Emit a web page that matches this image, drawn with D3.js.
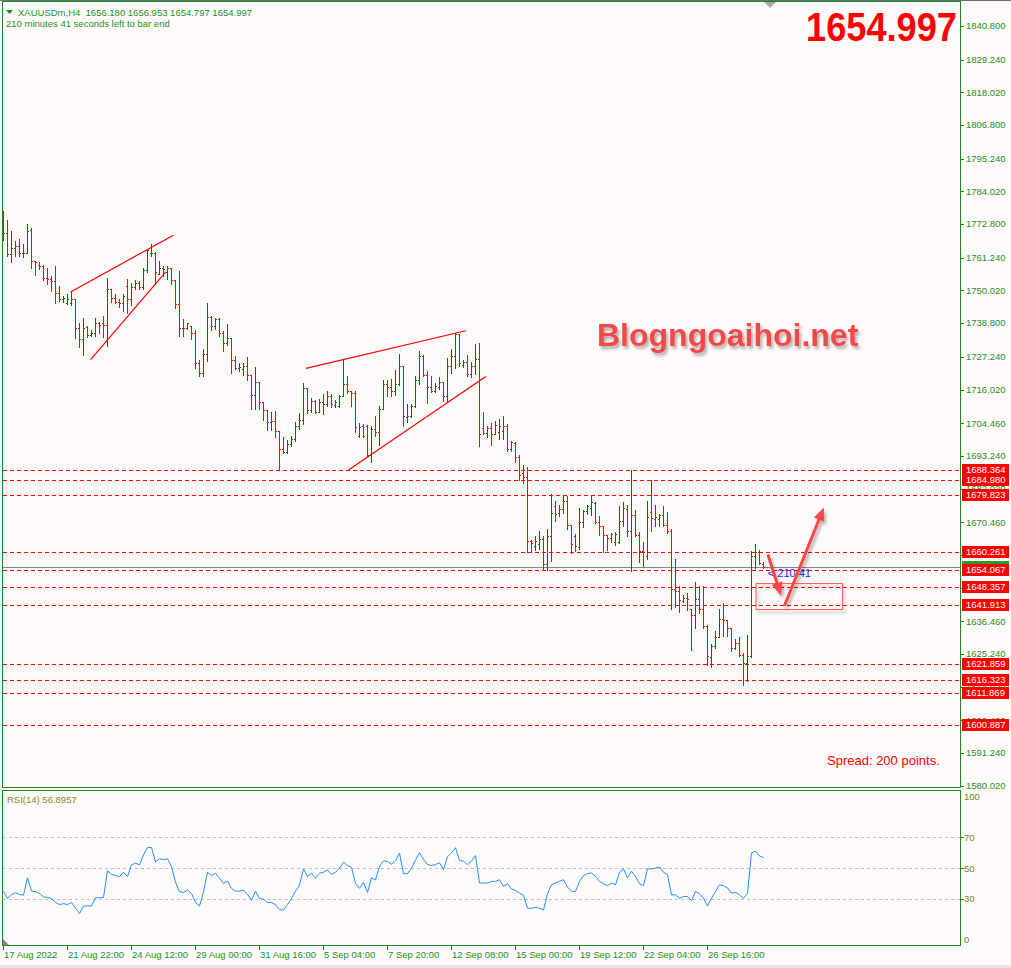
<!DOCTYPE html>
<html>
<head>
<meta charset="utf-8">
<script src="https://d3js.org/d3.v7.min.js"></script>
<style>
  body { margin: 0; background: #fffafa; }
  svg { display: block; }
  text { font-family: "Liberation Sans", Arial, sans-serif; }
</style>
</head>
<body>
<div id="chart"></div>
<script>
// XAUUSDm H4 bars, 17 Aug - 27 Sep 2022
const openP = [
  1776.2, 1769.9, 1762.5, 1764.7, 1765.3, 1762.8, 1763.0, 1770.7, 1760.1, 1758.9,
  1758.4, 1754.4, 1753.9, 1753.3, 1749.3, 1747.0, 1745.8, 1745.6, 1747.0, 1737.2,
  1733.5, 1737.4, 1734.9, 1735.5, 1738.7, 1738.7, 1738.2, 1750.4, 1747.5, 1746.2,
  1745.8, 1751.4, 1747.0, 1751.3, 1752.7, 1751.3, 1757.0, 1762.8, 1762.9, 1755.6,
  1757.6, 1756.2, 1757.9, 1753.6, 1745.3, 1737.2, 1737.0, 1737.8, 1735.3, 1725.0,
  1721.8, 1728.1, 1741.0, 1737.8, 1740.1, 1735.3, 1731.9, 1733.8, 1726.3, 1723.5,
  1722.9, 1724.0, 1721.0, 1714.1, 1718.7, 1711.6, 1709.1, 1704.7, 1705.2, 1701.9,
  1695.6, 1694.7, 1697.3, 1699.0, 1703.4, 1705.7, 1716.4, 1709.1, 1712.2, 1708.4,
  1711.6, 1711.0, 1713.9, 1710.7, 1710.5, 1713.9, 1717.9, 1715.6, 1714.8, 1700.2,
  1703.4, 1703.6, 1693.5, 1702.4, 1701.3, 1709.5, 1717.9, 1716.8, 1715.6, 1717.9,
  1724.0, 1706.5, 1707.0, 1710.5, 1719.4, 1727.6, 1721.0, 1716.8, 1715.6, 1716.8,
  1718.5, 1713.7, 1724.2, 1727.6, 1735.1, 1724.4, 1725.4, 1721.3, 1724.0, 1726.5,
  1702.7, 1701.1, 1702.7, 1700.7, 1701.5, 1701.9, 1703.6, 1695.6, 1697.6, 1692.7,
  1687.5, 1686.0, 1664.1, 1662.4, 1662.9, 1664.7, 1656.1, 1665.6, 1676.1, 1673.8,
  1675.0, 1677.8, 1669.5, 1665.6, 1661.8, 1670.6, 1674.4, 1675.5, 1677.0, 1670.6,
  1669.0, 1666.0, 1664.9, 1663.7, 1663.7, 1671.0, 1675.0, 1667.5, 1672.9, 1666.0,
  1660.6, 1659.0, 1674.0, 1671.5, 1671.5, 1672.9, 1669.5, 1667.5, 1647.7, 1646.9,
  1643.5, 1644.3, 1640.6, 1638.5, 1644.0, 1640.6, 1634.9, 1624.3, 1628.0, 1631.2,
  1637.2, 1636.9, 1634.3, 1627.4, 1628.9, 1624.8, 1622.3, 1624.6, 1658.9, 1660.3,
  1656.180
];
const highP = [
  1777.4, 1774.3, 1770.5, 1767.0, 1767.8, 1765.9, 1772.8, 1771.3, 1760.2, 1759.9,
  1758.7, 1757.6, 1755.1, 1758.4, 1751.4, 1748.2, 1748.7, 1749.5, 1747.0, 1738.9,
  1740.6, 1737.8, 1736.6, 1740.6, 1739.1, 1741.2, 1754.4, 1750.6, 1748.7, 1747.2,
  1748.7, 1754.1, 1752.7, 1753.6, 1753.3, 1757.8, 1764.4, 1765.9, 1763.3, 1760.2,
  1758.4, 1758.4, 1757.9, 1753.6, 1756.7, 1740.1, 1738.9, 1737.8, 1736.6, 1726.3,
  1729.8, 1745.8, 1741.2, 1740.7, 1740.7, 1736.1, 1738.4, 1733.8, 1727.5, 1725.2,
  1725.2, 1727.1, 1721.0, 1723.6, 1718.7, 1711.6, 1709.1, 1708.2, 1708.7, 1701.9,
  1699.6, 1698.8, 1700.2, 1704.7, 1707.9, 1718.3, 1716.4, 1713.0, 1712.5, 1712.8,
  1714.5, 1715.6, 1714.5, 1712.5, 1714.1, 1726.3, 1720.8, 1715.6, 1715.6, 1704.5,
  1704.2, 1703.8, 1703.6, 1707.0, 1710.5, 1719.4, 1719.4, 1719.6, 1722.8, 1728.2,
  1724.2, 1711.0, 1711.0, 1720.8, 1729.4, 1727.9, 1722.5, 1720.5, 1718.3, 1720.2,
  1718.7, 1726.7, 1729.9, 1735.4, 1735.1, 1726.3, 1727.9, 1725.4, 1731.7, 1732.0,
  1708.2, 1703.4, 1704.5, 1705.3, 1705.9, 1707.0, 1704.2, 1698.4, 1697.9, 1693.5,
  1690.0, 1689.5, 1664.4, 1665.6, 1667.5, 1665.6, 1668.1, 1680.1, 1677.8, 1676.3,
  1679.9, 1679.5, 1669.5, 1666.4, 1675.5, 1674.7, 1676.3, 1679.9, 1677.3, 1672.7,
  1669.2, 1666.0, 1666.9, 1667.2, 1676.1, 1677.5, 1676.3, 1688.5, 1674.7, 1667.2,
  1663.7, 1677.8, 1685.0, 1676.3, 1673.2, 1676.1, 1674.0, 1668.3, 1658.0, 1648.4,
  1645.4, 1646.1, 1640.6, 1650.0, 1648.4, 1648.4, 1635.1, 1628.6, 1633.2, 1640.8,
  1642.7, 1636.9, 1634.3, 1630.5, 1630.9, 1625.5, 1631.7, 1660.6, 1662.9, 1661.0,
  1656.953
];
const lowP = [
  1767.4, 1761.7, 1759.8, 1761.9, 1761.7, 1761.4, 1763.0, 1757.9, 1755.3, 1757.3,
  1753.7, 1752.2, 1749.9, 1745.6, 1746.4, 1746.1, 1745.3, 1744.9, 1733.8, 1730.7,
  1727.7, 1734.1, 1734.3, 1734.3, 1735.5, 1734.1, 1730.9, 1746.0, 1745.6, 1744.4,
  1743.0, 1742.4, 1744.9, 1750.6, 1750.4, 1750.6, 1756.3, 1761.9, 1752.2, 1755.6,
  1755.1, 1753.9, 1752.2, 1744.1, 1734.4, 1734.4, 1736.7, 1733.2, 1723.5, 1720.6,
  1720.6, 1725.8, 1736.4, 1736.9, 1734.4, 1729.2, 1731.2, 1721.6, 1723.2, 1722.4,
  1720.9, 1719.4, 1709.3, 1709.5, 1709.5, 1705.7, 1702.2, 1702.2, 1699.6, 1688.7,
  1694.2, 1694.2, 1696.5, 1698.4, 1702.4, 1704.2, 1707.9, 1708.4, 1707.9, 1708.4,
  1707.6, 1710.2, 1709.9, 1709.9, 1709.9, 1713.7, 1714.8, 1710.5, 1701.3, 1699.6,
  1699.6, 1693.1, 1691.2, 1700.2, 1696.9, 1709.5, 1713.7, 1713.7, 1714.1, 1717.6,
  1703.6, 1704.7, 1706.5, 1709.9, 1717.9, 1720.5, 1711.4, 1715.0, 1715.0, 1716.2,
  1712.2, 1711.6, 1721.7, 1723.3, 1724.2, 1723.6, 1720.5, 1720.2, 1721.3, 1696.7,
  1700.7, 1699.6, 1696.9, 1700.7, 1699.0, 1699.0, 1695.0, 1695.0, 1691.0, 1685.0,
  1683.9, 1660.3, 1660.3, 1661.0, 1661.2, 1654.1, 1654.1, 1657.2, 1671.0, 1672.7,
  1673.8, 1668.3, 1659.8, 1660.6, 1661.4, 1668.7, 1673.2, 1672.9, 1670.2, 1666.0,
  1660.1, 1661.0, 1663.7, 1662.6, 1663.5, 1669.2, 1665.6, 1653.8, 1665.8, 1656.9,
  1655.5, 1657.8, 1667.5, 1669.0, 1669.0, 1669.0, 1666.7, 1640.8, 1641.5, 1639.5,
  1643.1, 1640.4, 1626.6, 1634.3, 1639.2, 1634.1, 1621.4, 1620.9, 1627.4, 1630.9,
  1631.4, 1631.4, 1626.3, 1626.9, 1624.6, 1614.5, 1616.0, 1624.3, 1654.9, 1656.1,
  1654.797
];
const closeP = [
  1769.9, 1762.5, 1764.7, 1765.3, 1762.8, 1763.0, 1770.5, 1760.2, 1759.9, 1758.4,
  1754.4, 1753.9, 1753.3, 1749.3, 1747.2, 1747.6, 1747.0, 1747.0, 1737.2, 1733.5,
  1737.2, 1734.9, 1735.5, 1738.7, 1738.3, 1738.2, 1750.4, 1747.5, 1746.2, 1745.8,
  1748.1, 1747.0, 1751.3, 1752.7, 1751.3, 1757.0, 1764.0, 1762.9, 1756.2, 1757.6,
  1757.3, 1757.9, 1753.6, 1745.3, 1737.2, 1737.0, 1738.7, 1735.3, 1725.0, 1721.8,
  1728.1, 1741.0, 1737.8, 1740.1, 1735.3, 1731.9, 1733.8, 1726.3, 1723.5, 1723.6,
  1724.1, 1721.0, 1714.1, 1718.7, 1711.6, 1709.1, 1705.0, 1705.2, 1701.9, 1695.6,
  1694.7, 1697.3, 1699.0, 1703.4, 1705.7, 1716.4, 1709.1, 1712.2, 1708.4, 1711.6,
  1711.0, 1713.9, 1711.0, 1711.6, 1713.9, 1717.9, 1715.6, 1714.8, 1703.0, 1703.0,
  1700.2, 1693.5, 1702.4, 1701.5, 1709.5, 1717.9, 1716.8, 1715.6, 1717.9, 1724.0,
  1706.8, 1707.0, 1710.5, 1719.4, 1727.6, 1721.0, 1716.8, 1715.6, 1717.1, 1718.5,
  1713.7, 1724.2, 1727.6, 1735.1, 1725.1, 1725.4, 1721.3, 1724.2, 1726.5, 1700.7,
  1701.1, 1702.7, 1700.7, 1703.8, 1703.4, 1703.6, 1695.6, 1697.9, 1692.7, 1686.6,
  1686.0, 1664.1, 1663.5, 1664.1, 1664.7, 1656.1, 1665.6, 1673.8, 1673.2, 1675.0,
  1677.8, 1669.5, 1662.9, 1662.4, 1670.6, 1674.4, 1675.9, 1677.3, 1670.6, 1669.0,
  1666.0, 1665.2, 1666.4, 1666.4, 1671.0, 1675.5, 1667.5, 1672.9, 1666.0, 1660.6,
  1660.3, 1672.4, 1671.8, 1672.1, 1672.9, 1669.5, 1667.5, 1647.7, 1646.9, 1643.8,
  1644.3, 1644.0, 1638.5, 1644.0, 1640.6, 1634.9, 1624.6, 1628.0, 1631.2, 1637.2,
  1636.9, 1634.3, 1627.4, 1628.9, 1624.8, 1622.3, 1624.6, 1658.9, 1660.3, 1656.4,
  1654.997
];
// RSI(14)
const rsiVals = [
  35.2, 30.4, 33.0, 34.1, 33.0, 32.6, 43.9, 35.2, 34.8, 33.7,
  31.5, 31.1, 30.4, 27.8, 26.5, 27.1, 26.5, 27.8, 24.3, 20.6,
  25.6, 25.6, 25.6, 30.9, 30.9, 31.1, 48.3, 46.1, 45.2, 44.6,
  47.4, 44.6, 52.2, 53.3, 52.2, 58.7, 63.5, 63.5, 54.0, 56.1,
  55.5, 56.1, 51.1, 40.9, 34.8, 34.3, 35.9, 33.7, 27.8, 25.6,
  34.8, 47.4, 45.2, 46.8, 43.5, 40.2, 41.7, 37.0, 35.2, 35.2,
  35.9, 33.0, 29.3, 35.2, 30.4, 30.0, 27.8, 27.8, 26.5, 23.4,
  22.8, 26.5, 30.4, 35.2, 39.1, 49.6, 44.6, 46.8, 43.5, 46.8,
  47.4, 48.9, 46.1, 47.4, 50.0, 54.0, 51.8, 50.5, 40.2, 37.0,
  40.9, 34.3, 43.9, 42.4, 51.1, 54.8, 54.4, 52.6, 54.8, 59.8,
  46.5, 46.5, 50.2, 55.3, 60.0, 55.7, 52.4, 51.8, 52.4, 53.5,
  49.2, 57.4, 60.0, 63.3, 55.0, 54.6, 52.4, 54.6, 58.3, 40.4,
  40.4, 40.4, 41.5, 41.5, 42.6, 38.3, 40.0, 36.5, 35.6, 33.9,
  32.5, 24.1, 24.1, 24.7, 24.1, 23.0, 33.5, 39.3, 40.4, 41.5,
  42.6, 37.8, 35.0, 35.0, 41.5, 45.2, 46.5, 47.0, 44.8, 41.5,
  40.0, 38.7, 40.4, 39.3, 47.4, 49.6, 43.7, 48.1, 44.8, 40.0,
  38.7, 49.6, 49.6, 50.2, 50.9, 47.4, 45.9, 32.8, 32.8, 30.6,
  31.7, 31.7, 29.1, 35.0, 33.5, 30.6, 25.6, 30.6, 35.0, 39.3,
  38.7, 37.2, 33.9, 34.3, 32.8, 30.6, 33.9, 60.0, 61.1, 57.9,
  56.8957
];

const priceTicks = [1840.800, 1829.240, 1818.020, 1806.800, 1795.240, 1784.020, 1772.800,
  1761.240, 1750.020, 1738.800, 1727.240, 1716.020, 1704.460, 1693.240, 1682.020, 1670.460,
  1659.240, 1648.020, 1636.460, 1625.240, 1614.020, 1602.460, 1591.240, 1580.020];
const levels = [1688.364, 1684.980, 1679.823, 1660.261, 1654.067, 1648.357, 1641.913,
  1621.859, 1616.323, 1611.869, 1600.887];
const bidPrice = 1654.997;
const rsiLevels = [70, 50, 30];
const rsiTicks = [100, 70, 50, 30, 0];
const timeTickBars = [0, 16, 32, 48, 64, 80, 96, 112, 128, 144, 160, 176];
const timeTickLabels = ["17 Aug 2022", "21 Aug 22:00", "24 Aug 12:00", "29 Aug 00:00",
  "31 Aug 16:00", "5 Sep 04:00", "7 Sep 20:00", "12 Sep 08:00", "15 Sep 00:00",
  "19 Sep 12:00", "22 Sep 04:00", "26 Sep 16:00"];

// trendlines as [bar, price] pairs
const trendLines = [
  [[16.9, 1749.5], [42.6, 1769.0]],
  [[21.9, 1726.3], [40.7, 1756.4]],
  [[75.75, 1723.3], [115.7, 1736.2]],
  [[86.1, 1688.1], [120.7, 1720.5]]
];
const arrows = [
  [[191.3, 1659.0], [194.5, 1645.3]],
  [[195.5, 1642.2], [205.2, 1675.5]]
];
const boxCorners = [[188.25, 1649.4], [209.9, 1640.5]];

const W = 1011, H = 968;
const green = "#1f8a1f";
const axisText = "#23902a";

const svg = d3.select("#chart").append("svg").attr("width", W).attr("height", H);

const defs = svg.append("defs");
const sh = defs.append("filter").attr("id", "shadow")
  .attr("x", "-20%").attr("y", "-20%").attr("width", "150%").attr("height", "160%");
sh.append("feDropShadow").attr("dx", 2).attr("dy", 3).attr("stdDeviation", 1.6)
  .attr("flood-color", "#000").attr("flood-opacity", 0.3);

svg.append("rect").attr("width", W).attr("height", H).attr("fill", "#fffafa");

const x = d3.scaleLinear().domain([0, 190]).range([3, 763]);
const y = d3.scaleLinear().domain([1580.02, 1840.8]).range([785.7, 26]);
const yr = d3.scaleLinear().domain([0, 100]).range([945.5, 791]);
const px = v => Math.round(v) + 0.5;

// window frame
svg.append("line").attr("x1", 0).attr("x2", W).attr("y1", 0.5).attr("y2", 0.5)
  .attr("stroke", "#6e6e6e");
svg.append("path").attr("d", "M764,2 L776,2 L770,8 Z").attr("fill", "#a9a9a9");
svg.append("rect").attr("x", 2.5).attr("y", 1.5).attr("width", 958).attr("height", 786)
  .attr("fill", "none").attr("stroke", green);
svg.append("rect").attr("x", 2.5).attr("y", 790.5).attr("width", 958).attr("height", 155)
  .attr("fill", "none").attr("stroke", green);
svg.append("path").attr("d", "M3,939 L3,945 L9,945 Z").attr("fill", "#8a8a8a");
svg.append("rect").attr("x", 0).attr("y", 965).attr("width", W).attr("height", 3).attr("fill", "#e6e6e6");

// price axis (labels fully covered by a level tag are not drawn)
const pAxis = svg.append("g");
priceTicks.forEach(p => {
  pAxis.append("line").attr("x1", 961).attr("x2", 964)
    .attr("y1", px(y(p))).attr("y2", px(y(p))).attr("stroke", green);
  const covered = levels.some(l => Math.abs(y(l) - y(p)) < 2.5);
  if (!covered) {
    pAxis.append("text").attr("x", 966).attr("y", y(p)).attr("dy", "0.35em")
      .attr("font-size", 9.5).attr("fill", axisText).text(p.toFixed(3));
  }
});

// horizontal levels
levels.forEach(p => {
  svg.append("line").attr("x1", 3).attr("x2", 960)
    .attr("y1", px(y(p))).attr("y2", px(y(p)))
    .attr("stroke", "#ff0000").attr("stroke-dasharray", "4,3");
});
svg.append("line").attr("x1", 3).attr("x2", 960)
  .attr("y1", px(y(bidPrice))).attr("y2", px(y(bidPrice))).attr("stroke", "#778899");

// bid label then level labels
svg.append("rect").attr("x", 962).attr("y", Math.round(y(bidPrice)) - 6)
  .attr("width", 47).attr("height", 12).attr("fill", "#2a9a2a");
levels.forEach(p => {
  const yy = Math.round(y(p)) - 1;
  svg.append("rect").attr("x", 962).attr("y", yy - 5).attr("width", 47).attr("height", 12)
    .attr("fill", "#ff0000");
  svg.append("text").attr("x", 966).attr("y", yy + 1).attr("dy", "0.35em")
    .attr("font-size", 9.5).attr("fill", "#ffffff").text(p.toFixed(3));
});

// bars
const bars = svg.append("g").attr("shape-rendering", "crispEdges");
d3.range(openP.length).forEach(i => {
  const col = closeP[i] > openP[i] ? "#0a6e0a" : "#ff0000";
  const bx = Math.round(x(i));
  const yh = Math.round(y(highP[i])), yl = Math.round(y(lowP[i]));
  bars.append("rect").attr("x", bx).attr("y", yh).attr("width", 1)
    .attr("height", Math.max(1, yl - yh + 1)).attr("fill", col);
  bars.append("rect").attr("x", bx - 1).attr("y", Math.round(y(openP[i])))
    .attr("width", 1).attr("height", 1).attr("fill", col);
  bars.append("rect").attr("x", bx + 1).attr("y", Math.round(y(closeP[i])))
    .attr("width", 1).attr("height", 1).attr("fill", col);
});

// trendlines
trendLines.forEach(t => {
  svg.append("line")
    .attr("x1", x(t[0][0])).attr("y1", y(t[0][1]))
    .attr("x2", x(t[1][0])).attr("y2", y(t[1][1]))
    .attr("stroke", "#ff0000").attr("stroke-width", 1.2);
});

// timer
svg.append("text").attr("x", x(191.2)).attr("y", y(bidPrice) + 10)
  .attr("font-size", 11).attr("fill", "#2323ff").text("< 210:41");

// box + arrows
const ann = svg.append("g").attr("filter", "url(#shadow)");
ann.append("rect")
  .attr("x", x(boxCorners[0][0])).attr("y", y(boxCorners[0][1]))
  .attr("width", x(boxCorners[1][0]) - x(boxCorners[0][0]))
  .attr("height", y(boxCorners[1][1]) - y(boxCorners[0][1]))
  .attr("fill", "none").attr("stroke", "#ff5a5a").attr("stroke-width", 1);
arrows.forEach(a => {
  const x1 = x(a[0][0]), y1 = y(a[0][1]), x2 = x(a[1][0]), y2 = y(a[1][1]);
  const ang = Math.atan2(y2 - y1, x2 - x1);
  const hl = 13, hw = 5.5;
  const bxp = x2 - hl * Math.cos(ang), byp = y2 - hl * Math.sin(ang);
  ann.append("line").attr("x1", x1).attr("y1", y1).attr("x2", bxp).attr("y2", byp)
    .attr("stroke", "#fa4646").attr("stroke-width", 3).attr("stroke-linecap", "round");
  ann.append("path")
    .attr("d", `M${x2},${y2} L${bxp + hw * Math.sin(ang)},${byp - hw * Math.cos(ang)} L${bxp - hw * Math.sin(ang)},${byp + hw * Math.cos(ang)} Z`)
    .attr("fill", "#fa4646");
});

// watermark + big price
svg.append("text").attr("x", 597).attr("y", 346)
  .attr("font-size", 32).attr("font-weight", "bold").attr("fill", "#f04848")
  .attr("filter", "url(#shadow)").text("Blogngoaihoi.net");
svg.append("text").attr("x", 957).attr("y", 41).attr("text-anchor", "end")
  .attr("font-size", 41).attr("font-weight", "bold").attr("fill", "#ff0000")
  .attr("textLength", 151).attr("lengthAdjust", "spacingAndGlyphs").text("1654.997");
svg.append("text").attr("x", 827).attr("y", 765)
  .attr("font-size", 13).attr("fill", "#ff0000").text("Spread: 200 points.");

// header
svg.append("path").attr("d", "M6,10 L13,10 L9.5,14 Z").attr("fill", "#1f8a1f");
svg.append("text").attr("x", 18).attr("y", 16).attr("font-size", 9.5).attr("fill", axisText)
  .attr("xml:space", "preserve")
  .text("XAUUSDm,H4  1656.180 1656.953 1654.797 1654.997");
svg.append("text").attr("x", 6).attr("y", 27).attr("font-size", 9.5).attr("fill", axisText)
  .text("210 minutes 41 seconds left to bar end");

// RSI window
rsiLevels.forEach(v => {
  svg.append("line").attr("x1", 3).attr("x2", 960).attr("y1", px(yr(v))).attr("y2", px(yr(v)))
    .attr("stroke", "#c0c0c0").attr("stroke-dasharray", "3,3");
  svg.append("line").attr("x1", 961).attr("x2", 964).attr("y1", px(yr(v))).attr("y2", px(yr(v)))
    .attr("stroke", green);
});
rsiTicks.forEach(v => {
  const yy = v === 100 ? yr(v) + 6 : v === 0 ? yr(v) - 6 : yr(v);
  svg.append("text").attr("x", 964).attr("y", yy).attr("dy", "0.35em")
    .attr("font-size", 9.5).attr("fill", "#5f8f1a").text(v);
});
const rsiLine = d3.line().x((d, i) => x(i) + 0.5).y(d => yr(d));
svg.append("path").datum(rsiVals).attr("d", rsiLine)
  .attr("fill", "none").attr("stroke", "#1e90ff").attr("stroke-width", 1);
svg.append("text").attr("x", 7).attr("y", 803).attr("font-size", 9.5).attr("fill", "#7a8f1c")
  .text("RSI(14) 56.8957");

// time axis
timeTickBars.forEach((b, k) => {
  svg.append("line").attr("x1", px(x(b))).attr("x2", px(x(b))).attr("y1", 946).attr("y2", 950)
    .attr("stroke", green);
  svg.append("text").attr("x", x(b) + 1).attr("y", 958).attr("font-size", 9.5)
    .attr("fill", axisText).text(timeTickLabels[k]);
});
</script>
</body>
</html>
